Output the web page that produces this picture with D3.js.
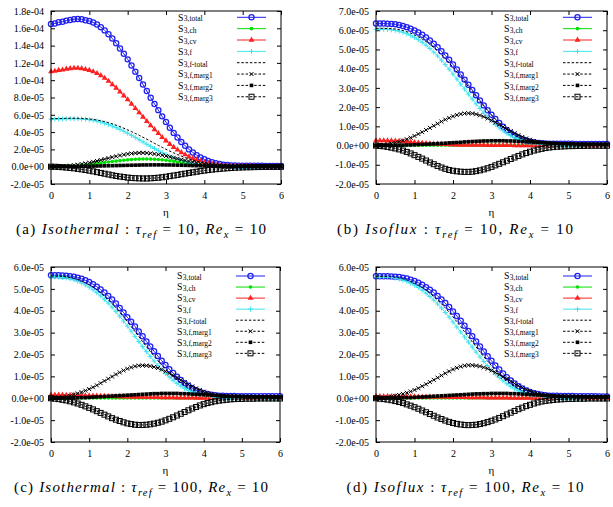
<!DOCTYPE html>
<html><head><meta charset="utf-8">
<script src="https://cdn.jsdelivr.net/npm/d3@7/dist/d3.min.js"></script>
<style>body{margin:0;background:#fff}svg{display:block}</style>
</head><body><svg id="chart" width="613" height="507"></svg>
<script>
// ---------- DATA (values in units of 1e-5) ----------
const UNIT = 1e-5;
const eta = [0,0.1,0.2,0.3,0.4,0.5,0.6,0.7,0.8,0.9,1,1.1,1.2,1.3,1.4,1.5,1.6,1.7,1.8,1.9,2,2.1,2.2,2.3,2.4,2.5,2.6,2.7,2.8,2.9,3,3.1,3.2,3.3,3.4,3.5,3.6,3.7,3.8,3.9,4,4.1,4.2,4.3,4.4,4.5,4.6,4.7,4.8,4.9,5,5.1,5.2,5.3,5.4,5.5,5.6,5.7,5.8,5.9,6];
const xTicks = [0,1,2,3,4,5,6];
const xTickLabels = ["0","1","2","3","4","5","6"];
const legendSubs = ["3,total","3,ch","3,cv","3,f","3,f-total","3,f,marg1","3,f,marg2","3,f,marg3"];

// Panel (a) Isothermal tau_ref=10
const a_total = [16.5,16.56,16.69,16.76,16.89,16.97,17.05,17.07,17.04,16.94,16.84,16.67,16.43,16.13,15.76,15.32,14.81,14.27,13.67,13.05,12.41,11.71,10.99,10.25,9.5,8.74,7.98,7.26,6.54,5.82,5.16,4.5,3.91,3.38,2.86,2.42,2.0,1.64,1.34,1.07,0.85,0.67,0.52,0.4,0.31,0.24,0.19,0.15,0.13,0.12,0.11,0.11,0.1,0.1,0.1,0.1,0.09,0.09,0.09,0.09,0.09];
const a_ch = [0,0.01,0.02,0.03,0.05,0.07,0.1,0.13,0.17,0.21,0.26,0.31,0.36,0.42,0.48,0.54,0.6,0.65,0.7,0.75,0.79,0.83,0.86,0.88,0.89,0.89,0.88,0.86,0.83,0.79,0.74,0.68,0.62,0.55,0.48,0.42,0.36,0.3,0.25,0.2,0.16,0.13,0.1,0.08,0.06,0.05,0.04,0.03,0.02,0.02,0.02,0.01,0.01,0.01,0.01,0.01,0.01,0.01,0.01,0.01,0.01];
const a_cv = [11.0,11.05,11.15,11.2,11.3,11.35,11.4,11.4,11.35,11.25,11.15,11.0,10.8,10.55,10.25,9.9,9.5,9.1,8.65,8.2,7.75,7.25,6.75,6.25,5.75,5.25,4.75,4.3,3.85,3.4,3.0,2.6,2.25,1.95,1.65,1.4,1.15,0.95,0.78,0.63,0.5,0.4,0.31,0.24,0.19,0.14,0.11,0.08,0.06,0.05,0.04,0.03,0.03,0.02,0.02,0.02,0.02,0.01,0.01,0.01,0.01];
const a_f = [5.5,5.5,5.52,5.53,5.54,5.55,5.55,5.54,5.52,5.48,5.43,5.36,5.27,5.16,5.03,4.88,4.71,4.52,4.32,4.1,3.87,3.63,3.38,3.12,2.86,2.6,2.35,2.1,1.86,1.63,1.42,1.22,1.04,0.88,0.73,0.6,0.49,0.39,0.31,0.24,0.19,0.14,0.11,0.08,0.06,0.05,0.04,0.03,0.02,0.02,0.02,0.02,0.02,0.01,0.01,0.01,0.01,0.01,0.01,0.01,0.01];
const a_ftot = [5.55,5.56,5.57,5.58,5.6,5.6,5.6,5.6,5.58,5.55,5.52,5.47,5.4,5.31,5.21,5.09,4.95,4.8,4.63,4.45,4.26,4.06,3.85,3.63,3.4,3.17,2.94,2.7,2.47,2.24,2.02,1.8,1.6,1.4,1.22,1.05,0.9,0.76,0.64,0.53,0.44,0.36,0.3,0.25,0.21,0.18,0.16,0.14,0.13,0.12,0.11,0.1,0.1,0.1,0.1,0.1,0.09,0.09,0.09,0.09,0.09];
const a_m1 = [0,0.01,0.03,0.05,0.08,0.12,0.17,0.23,0.3,0.38,0.47,0.56,0.66,0.77,0.88,0.99,1.1,1.2,1.3,1.39,1.47,1.53,1.57,1.6,1.6,1.58,1.54,1.48,1.41,1.33,1.24,1.14,1.03,0.92,0.81,0.71,0.61,0.52,0.44,0.37,0.31,0.26,0.21,0.18,0.15,0.12,0.1,0.09,0.08,0.07,0.07,0.06,0.06,0.06,0.05,0.05,0.05,0.05,0.05,0.05,0.05];
const a_m2 = [0,0,0.01,0.01,0.01,0.02,0.02,0.03,0.04,0.05,0.06,0.07,0.08,0.09,0.1,0.11,0.12,0.13,0.14,0.15,0.16,0.17,0.18,0.19,0.2,0.2,0.21,0.21,0.21,0.21,0.2,0.2,0.19,0.18,0.17,0.16,0.15,0.13,0.12,0.11,0.1,0.09,0.08,0.07,0.06,0.06,0.05,0.05,0.04,0.04,0.04,0.03,0.03,0.03,0.03,0.03,0.02,0.02,0.02,0.02,0.02];
const a_m3 = [0,-0.01,-0.03,-0.06,-0.1,-0.14,-0.19,-0.25,-0.31,-0.38,-0.46,-0.54,-0.63,-0.72,-0.81,-0.9,-0.99,-1.07,-1.14,-1.2,-1.26,-1.3,-1.33,-1.35,-1.36,-1.36,-1.34,-1.31,-1.27,-1.22,-1.16,-1.09,-1.02,-0.95,-0.87,-0.8,-0.72,-0.65,-0.58,-0.51,-0.45,-0.39,-0.34,-0.29,-0.25,-0.21,-0.18,-0.15,-0.12,-0.1,-0.08,-0.07,-0.06,-0.05,-0.04,-0.03,-0.03,-0.02,-0.02,-0.02,-0.01];
const a_yTicks = [-2,0,2,4,6,8,10,12,14,16,18];
const a_yLabels = ["-2.0e-05","0.0e+00","2.0e-05","4.0e-05","6.0e-05","8.0e-05","1.0e-04","1.2e-04","1.4e-04","1.6e-04","1.8e-04"];

// Panel (b) Isoflux tau_ref=10
const b_total = [6.35,6.35,6.35,6.34,6.33,6.31,6.27,6.22,6.16,6.08,5.99,5.88,5.76,5.62,5.47,5.3,5.11,4.91,4.69,4.46,4.22,3.96,3.7,3.43,3.16,2.89,2.62,2.35,2.09,1.84,1.6,1.38,1.17,0.98,0.81,0.66,0.53,0.42,0.33,0.26,0.21,0.17,0.14,0.12,0.11,0.1,0.1,0.09,0.09,0.09,0.09,0.09,0.08,0.08,0.08,0.08,0.08,0.08,0.08,0.08,0.08];
const b_ch = [0,0,0.01,0.01,0.01,0.01,0.01,0.01,0.02,0.02,0.02,0.02,0.02,0.02,0.02,0.02,0.02,0.02,0.02,0.02,0.02,0.02,0.02,0.02,0.02,0.02,0.02,0.02,0.02,0.02,0.02,0.02,0.02,0.02,0.02,0.02,0.02,0.02,0.02,0.02,0.01,0.01,0.01,0.01,0.01,0.01,0.01,0.01,0.01,0.01,0.01,0.01,0.01,0.01,0.01,0.01,0.01,0.01,0.01,0.01,0.01];
const b_cv = [0.26,0.26,0.26,0.25,0.25,0.24,0.23,0.21,0.2,0.18,0.16,0.14,0.13,0.11,0.1,0.09,0.08,0.07,0.06,0.05,0.04,0.04,0.03,0.03,0.03,0.02,0.02,0.02,0.02,0.01,0.01,0.01,0.01,0.01,0.01,0.01,0,0,0,0,0,0,0,0,0,0,0,0,0,0,0,0,0,0,0,0,0,0,0,0,0];
const b_f = [6.05,6.05,6.05,6.04,6.02,5.99,5.95,5.89,5.82,5.73,5.63,5.51,5.37,5.22,5.05,4.86,4.66,4.44,4.21,3.97,3.72,3.46,3.2,2.94,2.68,2.42,2.17,1.93,1.7,1.48,1.28,1.09,0.92,0.77,0.63,0.51,0.41,0.32,0.25,0.19,0.15,0.11,0.08,0.06,0.05,0.04,0.03,0.03,0.02,0.02,0.02,0.02,0.02,0.01,0.01,0.01,0.01,0.01,0.01,0.01,0.01];
const b_ftot = [6.1,6.1,6.1,6.09,6.08,6.06,6.03,5.98,5.92,5.85,5.76,5.66,5.54,5.41,5.26,5.1,4.92,4.73,4.52,4.3,4.07,3.83,3.58,3.33,3.07,2.81,2.55,2.3,2.05,1.81,1.59,1.38,1.18,1.0,0.84,0.69,0.56,0.45,0.36,0.29,0.23,0.19,0.16,0.13,0.12,0.11,0.1,0.1,0.09,0.09,0.09,0.09,0.09,0.09,0.09,0.09,0.09,0.09,0.09,0.09,0.09];
const b_m1 = [0,0.02,0.04,0.07,0.11,0.15,0.2,0.26,0.33,0.41,0.5,0.6,0.7,0.81,0.92,1.03,1.14,1.25,1.35,1.44,1.52,1.59,1.64,1.67,1.68,1.67,1.63,1.57,1.5,1.41,1.31,1.2,1.09,0.97,0.86,0.75,0.64,0.54,0.45,0.37,0.3,0.24,0.2,0.16,0.13,0.11,0.1,0.09,0.08,0.08,0.07,0.07,0.07,0.06,0.06,0.06,0.06,0.06,0.05,0.05,0.05];
const b_m2 = [0,0,0,0.01,0.01,0.01,0.02,0.02,0.03,0.03,0.04,0.05,0.06,0.07,0.08,0.09,0.1,0.11,0.12,0.14,0.15,0.16,0.17,0.19,0.2,0.21,0.22,0.23,0.24,0.24,0.25,0.25,0.25,0.25,0.24,0.24,0.23,0.22,0.21,0.2,0.19,0.17,0.16,0.15,0.14,0.13,0.12,0.11,0.1,0.1,0.09,0.09,0.08,0.08,0.08,0.07,0.07,0.07,0.07,0.06,0.06];
const b_m3 = [0,-0.02,-0.04,-0.07,-0.11,-0.15,-0.2,-0.26,-0.33,-0.41,-0.5,-0.59,-0.68,-0.78,-0.88,-0.97,-1.06,-1.14,-1.21,-1.27,-1.31,-1.34,-1.36,-1.37,-1.37,-1.36,-1.33,-1.29,-1.24,-1.18,-1.11,-1.03,-0.95,-0.87,-0.79,-0.7,-0.62,-0.54,-0.46,-0.39,-0.32,-0.26,-0.21,-0.17,-0.13,-0.1,-0.08,-0.06,-0.05,-0.04,-0.03,-0.03,-0.02,-0.02,-0.02,-0.01,-0.01,-0.01,-0.01,-0.01,-0.01];
const b_yTicks = [-2,-1,0,1,2,3,4,5,6,7];
const b_yLabels = ["-2.0e-05","-1.0e-05","0.0e+00","1.0e-05","2.0e-05","3.0e-05","4.0e-05","5.0e-05","6.0e-05","7.0e-05"];

// Panel (c) Isothermal tau_ref=100
const c_total = [5.62,5.62,5.62,5.61,5.6,5.58,5.55,5.51,5.46,5.39,5.31,5.21,5.1,4.97,4.83,4.68,4.51,4.33,4.13,3.92,3.7,3.5,3.28,3.05,2.83,2.6,2.37,2.15,1.93,1.72,1.52,1.33,1.15,0.98,0.83,0.69,0.57,0.46,0.37,0.3,0.24,0.19,0.16,0.14,0.12,0.11,0.1,0.1,0.1,0.09,0.09,0.09,0.09,0.09,0.09,0.09,0.09,0.09,0.09,0.09,0.09];
const c_ch = [0,0,0,0,0,0,0,0.01,0.01,0.01,0.01,0.01,0.01,0.01,0.01,0.01,0.01,0.01,0.01,0.01,0.01,0.01,0.01,0.01,0.01,0.01,0.01,0.01,0.01,0.01,0.01,0.01,0.01,0.01,0.01,0.01,0.01,0.01,0.01,0.01,0.01,0.01,0.01,0.01,0.01,0,0,0,0,0,0,0,0,0,0,0,0,0,0,0,0];
const c_cv = [0.15,0.15,0.15,0.15,0.14,0.14,0.14,0.13,0.13,0.12,0.12,0.11,0.11,0.1,0.1,0.09,0.09,0.08,0.08,0.07,0.07,0.06,0.06,0.05,0.05,0.05,0.04,0.04,0.04,0.03,0.03,0.03,0.03,0.02,0.02,0.02,0.02,0.02,0.01,0.01,0.01,0.01,0.01,0.01,0.01,0,0,0,0,0,0,0,0,0,0,0,0,0,0,0,0];
const c_f = [5.55,5.55,5.54,5.52,5.5,5.46,5.41,5.35,5.27,5.18,5.08,4.96,4.83,4.68,4.52,4.35,4.16,3.96,3.75,3.53,3.3,3.07,2.83,2.59,2.36,2.13,1.91,1.7,1.5,1.31,1.13,0.97,0.82,0.68,0.56,0.45,0.36,0.28,0.22,0.17,0.13,0.1,0.07,0.05,0.04,0.03,0.02,0.02,0.02,0.01,0.01,0.01,0.01,0.01,0.01,0.01,0.01,0.01,0.01,0.01,0.01];
const c_ftot = [5.58,5.58,5.58,5.57,5.55,5.52,5.48,5.43,5.36,5.28,5.19,5.08,4.96,4.82,4.67,4.51,4.33,4.14,3.94,3.73,3.51,3.28,3.05,2.82,2.59,2.36,2.14,1.93,1.72,1.52,1.33,1.16,1.0,0.85,0.72,0.6,0.49,0.4,0.32,0.26,0.21,0.17,0.14,0.12,0.11,0.1,0.09,0.09,0.09,0.09,0.09,0.09,0.09,0.09,0.09,0.09,0.09,0.09,0.09,0.09,0.09];
const c_m1 = [0,0.01,0.03,0.05,0.08,0.11,0.17,0.22,0.28,0.35,0.42,0.5,0.59,0.69,0.79,0.89,0.99,1.09,1.18,1.27,1.35,1.41,1.46,1.49,1.5,1.49,1.47,1.43,1.38,1.31,1.23,1.14,1.04,0.94,0.83,0.73,0.63,0.54,0.45,0.37,0.3,0.24,0.2,0.16,0.13,0.11,0.1,0.09,0.08,0.08,0.07,0.07,0.07,0.06,0.06,0.06,0.06,0.06,0.06,0.06,0.06];
const c_m2 = [0,0,0,0.01,0.01,0.01,0.02,0.02,0.03,0.03,0.04,0.05,0.06,0.07,0.08,0.09,0.1,0.11,0.12,0.13,0.14,0.15,0.16,0.17,0.18,0.19,0.2,0.21,0.21,0.22,0.22,0.22,0.22,0.22,0.21,0.21,0.2,0.19,0.18,0.17,0.16,0.15,0.14,0.13,0.12,0.11,0.1,0.09,0.09,0.08,0.08,0.07,0.07,0.07,0.06,0.06,0.06,0.06,0.05,0.05,0.05];
const c_m3 = [0,-0.02,-0.04,-0.07,-0.1,-0.14,-0.19,-0.24,-0.3,-0.37,-0.44,-0.51,-0.59,-0.67,-0.75,-0.83,-0.91,-0.98,-1.04,-1.1,-1.15,-1.18,-1.21,-1.22,-1.22,-1.21,-1.19,-1.16,-1.12,-1.07,-1.01,-0.94,-0.87,-0.79,-0.71,-0.63,-0.55,-0.47,-0.4,-0.33,-0.27,-0.22,-0.18,-0.14,-0.11,-0.09,-0.07,-0.05,-0.04,-0.03,-0.03,-0.02,-0.02,-0.02,-0.01,-0.01,-0.01,-0.01,-0.01,-0.01,-0.01];
const c_yTicks = [-2,-1,0,1,2,3,4,5,6];
const c_yLabels = ["-2.0e-05","-1.0e-05","0.0e+00","1.0e-05","2.0e-05","3.0e-05","4.0e-05","5.0e-05","6.0e-05"];

// Panel (d) Isoflux tau_ref=100
const d_total = [5.58,5.58,5.58,5.58,5.57,5.56,5.54,5.51,5.47,5.42,5.36,5.28,5.19,5.08,4.96,4.83,4.68,4.52,4.35,4.17,3.97,3.76,3.54,3.31,3.08,2.84,2.6,2.37,2.14,1.92,1.71,1.5,1.31,1.13,0.96,0.81,0.67,0.55,0.45,0.36,0.29,0.23,0.19,0.16,0.14,0.12,0.11,0.11,0.1,0.1,0.1,0.1,0.09,0.09,0.09,0.09,0.09,0.09,0.08,0.08,0.08];
const d_ch = [0,0,0,0,0,0,0.01,0.01,0.01,0.01,0.01,0.01,0.01,0.01,0.01,0.01,0.01,0.01,0.01,0.01,0.01,0.01,0.01,0.01,0.01,0.01,0.01,0.01,0.01,0.01,0.01,0.01,0.01,0.01,0.01,0.01,0.01,0.01,0.01,0.01,0.01,0.01,0,0,0,0,0,0,0,0,0,0,0,0,0,0,0,0,0,0,0];
const d_cv = [0.08,0.08,0.08,0.08,0.08,0.08,0.07,0.07,0.07,0.07,0.07,0.06,0.06,0.06,0.06,0.05,0.05,0.05,0.05,0.04,0.04,0.04,0.04,0.04,0.03,0.03,0.03,0.03,0.03,0.02,0.02,0.02,0.02,0.02,0.02,0.01,0.01,0.01,0.01,0.01,0.01,0.01,0.01,0.01,0.01,0,0,0,0,0,0,0,0,0,0,0,0,0,0,0,0];
const d_f = [5.55,5.55,5.55,5.54,5.52,5.49,5.45,5.4,5.34,5.26,5.17,5.06,4.94,4.8,4.65,4.49,4.31,4.12,3.92,3.71,3.49,3.26,3.03,2.8,2.57,2.34,2.11,1.89,1.68,1.48,1.29,1.11,0.95,0.8,0.66,0.54,0.43,0.34,0.27,0.21,0.16,0.12,0.09,0.07,0.05,0.04,0.03,0.03,0.02,0.02,0.02,0.02,0.01,0.01,0.01,0.01,0.01,0.01,0.01,0.01,0.01];
const d_ftot = [5.57,5.57,5.57,5.56,5.55,5.53,5.5,5.46,5.41,5.34,5.26,5.17,5.06,4.94,4.8,4.65,4.49,4.32,4.13,3.93,3.72,3.5,3.27,3.04,2.81,2.58,2.35,2.12,1.9,1.69,1.49,1.3,1.12,0.96,0.81,0.67,0.55,0.45,0.36,0.29,0.23,0.19,0.15,0.13,0.11,0.1,0.09,0.09,0.09,0.08,0.08,0.08,0.08,0.08,0.08,0.08,0.08,0.08,0.08,0.08,0.08];
const d_m1 = [0,0.01,0.03,0.05,0.08,0.11,0.15,0.2,0.25,0.31,0.38,0.46,0.55,0.64,0.74,0.84,0.94,1.04,1.14,1.23,1.32,1.39,1.45,1.49,1.51,1.51,1.49,1.46,1.41,1.35,1.27,1.18,1.08,0.98,0.88,0.77,0.67,0.57,0.48,0.4,0.33,0.27,0.22,0.18,0.15,0.12,0.1,0.09,0.08,0.08,0.07,0.07,0.07,0.07,0.06,0.06,0.06,0.06,0.06,0.06,0.06];
const d_m2 = [0,0,0,0.01,0.01,0.01,0.02,0.02,0.03,0.03,0.04,0.05,0.06,0.07,0.08,0.09,0.1,0.11,0.12,0.13,0.14,0.15,0.16,0.17,0.18,0.19,0.2,0.2,0.21,0.21,0.22,0.22,0.22,0.22,0.22,0.21,0.21,0.2,0.19,0.18,0.17,0.16,0.15,0.14,0.13,0.12,0.11,0.1,0.09,0.09,0.08,0.08,0.07,0.07,0.07,0.06,0.06,0.06,0.06,0.05,0.05];
const d_m3 = [0,-0.02,-0.04,-0.06,-0.09,-0.13,-0.17,-0.22,-0.28,-0.34,-0.41,-0.48,-0.56,-0.64,-0.72,-0.8,-0.88,-0.95,-1.02,-1.08,-1.13,-1.17,-1.2,-1.22,-1.23,-1.22,-1.21,-1.18,-1.14,-1.09,-1.03,-0.97,-0.9,-0.82,-0.74,-0.66,-0.58,-0.5,-0.43,-0.36,-0.3,-0.24,-0.19,-0.15,-0.12,-0.1,-0.08,-0.06,-0.05,-0.04,-0.03,-0.03,-0.02,-0.02,-0.02,-0.01,-0.01,-0.01,-0.01,-0.01,-0.01];
const d_yTicks = c_yTicks;
const d_yLabels = c_yLabels;

// ---------- STYLES ----------
const seriesStyles = [
  {color:"#1f1ff0", marker:"circleOpen", dash:null},
  {color:"#00e000", marker:"dot", dash:null},
  {color:"#ff2020", marker:"triangle", dash:null},
  {color:"#40e4f0", marker:"plus", dash:null},
  {color:"#000", marker:null, dash:"2.5,1.8"},
  {color:"#000", marker:"cross", dash:"2.5,1.8"},
  {color:"#000", marker:"squareFill", dash:"2.5,1.8"},
  {color:"#000", marker:"squareOpen", dash:"2.5,1.8"}
];

const panels = [
  {series:[a_total,a_ch,a_cv,a_f,a_ftot,a_m1,a_m2,a_m3], yTicks:a_yTicks, yLabels:a_yLabels,
   box:{l:51,r:281,t:11,b:184}, legY:17.3, legDy:11.35, capX:141, capW:250, capY:234,
   cap:[["(a) ","n"],["Isothermal","i"],[" : ","n"],["τ","i"],["ref","s"],[" = 10,  ","n"],["Re","i"],["x","s"],[" = 10","n"]]},
  {series:[b_total,b_ch,b_cv,b_f,b_ftot,b_m1,b_m2,b_m3], yTicks:b_yTicks, yLabels:b_yLabels,
   box:{l:376,r:607,t:11,b:184}, legY:17.3, legDy:11.35, capX:455, capW:236, capY:234,
   cap:[["(b) ","n"],["Isoflux","i"],[" : ","n"],["τ","i"],["ref","s"],[" = 10,  ","n"],["Re","i"],["x","s"],[" = 10","n"]]},
  {series:[c_total,c_ch,c_cv,c_f,c_ftot,c_m1,c_m2,c_m3], yTicks:c_yTicks, yLabels:c_yLabels,
   box:{l:51,r:280,t:267,b:442}, legY:276, legDy:11.05, capX:141, capW:254, capY:492,
   cap:[["(c) ","n"],["Isothermal","i"],[" : ","n"],["τ","i"],["ref","s"],[" = 100,  ","n"],["Re","i"],["x","s"],[" = 10","n"]]},
  {series:[d_total,d_ch,d_cv,d_f,d_ftot,d_m1,d_m2,d_m3], yTicks:d_yTicks, yLabels:d_yLabels,
   box:{l:376,r:607,t:267,b:442}, legY:276, legDy:11.05, capX:465, capW:237, capY:492,
   cap:[["(d) ","n"],["Isoflux","i"],[" : ","n"],["τ","i"],["ref","s"],[" = 100,  ","n"],["Re","i"],["x","s"],[" = 10","n"]]}
];

const FONT = "Liberation Serif, Times New Roman, serif";
const svg = d3.select("#chart");

function drawMarker(g, type, cx, cy, color){
  switch(type){
    case "circleOpen": g.append("circle").attr("cx",cx).attr("cy",cy).attr("r",2.6).attr("fill","none").attr("stroke",color).attr("stroke-width",1.25); break;
    case "dot": g.append("circle").attr("cx",cx).attr("cy",cy).attr("r",1.8).attr("fill",color); break;
    case "triangle": g.append("path").attr("d",d3.symbol(d3.symbolTriangle,15)()).attr("transform",`translate(${cx},${cy})`).attr("fill",color); break;
    case "plus": g.append("path").attr("d",`M${cx-2.5},${cy}H${cx+2.5}M${cx},${cy-2.5}V${cy+2.5}`).attr("stroke",color).attr("stroke-width",1); break;
    case "cross": g.append("path").attr("d",`M${cx-2},${cy-2}L${cx+2},${cy+2}M${cx-2},${cy+2}L${cx+2},${cy-2}`).attr("stroke",color).attr("stroke-width",1); break;
    case "squareFill": g.append("rect").attr("x",cx-1.8).attr("y",cy-1.8).attr("width",3.6).attr("height",3.6).attr("fill",color); break;
    case "squareOpen": g.append("rect").attr("x",cx-2.5).attr("y",cy-2.5).attr("width",5).attr("height",5).attr("fill","none").attr("stroke",color).attr("stroke-width",1); break;
  }
}

const LEG_S = 9.8, LEG_SUB = 7.5;

panels.forEach(p => {
  const B = p.box;
  const x = d3.scaleLinear().domain([0,6]).range([B.l,B.r]);
  const y = d3.scaleLinear().domain([p.yTicks[0]*UNIT, p.yTicks[p.yTicks.length-1]*UNIT]).range([B.b,B.t]);
  const g = svg.append("g");

  const styleAxis = sel => { sel.attr("font-family",FONT).attr("font-size",10); sel.select(".domain").remove(); sel.selectAll("line").attr("stroke","#000"); };
  g.append("g").attr("transform",`translate(0,${B.b})`)
    .call(d3.axisBottom(x).tickValues(xTicks).tickFormat((d,i)=>xTickLabels[i]).tickSize(-4).tickSizeOuter(0).tickPadding(8)).call(styleAxis);
  g.append("g").attr("transform",`translate(0,${B.t})`)
    .call(d3.axisTop(x).tickValues(xTicks).tickFormat("").tickSize(-4).tickSizeOuter(0)).call(styleAxis);
  g.append("g").attr("transform",`translate(${B.l},0)`)
    .call(d3.axisLeft(y).tickValues(p.yTicks.map(v=>v*UNIT)).tickFormat((d,i)=>p.yLabels[i]).tickSize(-4).tickSizeOuter(0).tickPadding(7)).call(styleAxis);
  g.append("g").attr("transform",`translate(${B.r},0)`)
    .call(d3.axisRight(y).tickValues(p.yTicks.map(v=>v*UNIT)).tickFormat("").tickSize(-4).tickSizeOuter(0)).call(styleAxis);
  g.selectAll("text").attr("fill","#000");

  const line = d3.line().x((d,i)=>x(eta[i])).y(d=>y(d*UNIT));
  p.series.forEach((vals, si) => {
    const st = seriesStyles[si];
    const sg = g.append("g");
    sg.append("path").attr("d", line(vals)).attr("fill","none").attr("stroke",st.color).attr("stroke-width",1)
      .attr("stroke-dasharray", st.dash);
    if (st.marker) vals.forEach((v,i)=>drawMarker(sg, st.marker, x(eta[i]), y(v*UNIT), st.color));
  });

  g.append("rect").attr("x",B.l).attr("y",B.t).attr("width",B.r-B.l).attr("height",B.b-B.t)
    .attr("fill","none").attr("stroke","#000").attr("stroke-width",1);

  // legend: "S" and its subscript as separate texts so rows do not collide
  const subDy = Math.max(0.5, p.legDy - 0.891*LEG_S - 0.216*LEG_SUB - 0.15);
  legendSubs.forEach((sub, i) => {
    const st = seriesStyles[i];
    const ry = p.legY + i*p.legDy;
    const base = ry + 3.3;
    const tS = g.append("text").attr("x",B.r-103).attr("y",base).attr("font-family",FONT).attr("font-size",LEG_S).attr("fill","#000").text("S");
    const wS = tS.node().getComputedTextLength();
    g.append("text").attr("x",B.r-103+wS+0.3).attr("y",base+subDy).attr("font-family",FONT).attr("font-size",LEG_SUB).attr("fill","#000").text(sub);
    const x1 = B.r-44, x2 = B.r-15;
    g.append("line").attr("x1",x1).attr("x2",x2).attr("y1",ry).attr("y2",ry).attr("stroke",st.color).attr("stroke-width",1).attr("stroke-dasharray",st.dash);
    if (st.marker) drawMarker(g, st.marker, (x1+x2)/2, ry, st.color);
  });

  g.append("text").attr("x",(B.l+B.r)/2).attr("y",B.b+32).attr("text-anchor","middle")
    .attr("font-family",FONT).attr("font-size",11).text("η");

  const ct = g.append("text").attr("x",p.capX).attr("y",p.capY).attr("text-anchor","middle")
    .attr("font-family",FONT).attr("font-size",15).attr("fill","#000")
    .attr("textLength",p.capW).attr("lengthAdjust","spacing");
  let lowered = false;
  p.cap.forEach(([txt, kind]) => {
    const ts = ct.append("tspan").text(txt);
    if (kind === "i") ts.attr("font-style","italic");
    if (kind === "s") { ts.attr("font-style","italic").attr("font-size",10.5).attr("dy",3.5); lowered = true; }
    else if (lowered) { ts.attr("dy",-3.5); lowered = false; }
  });
});
</script>
</body></html>
